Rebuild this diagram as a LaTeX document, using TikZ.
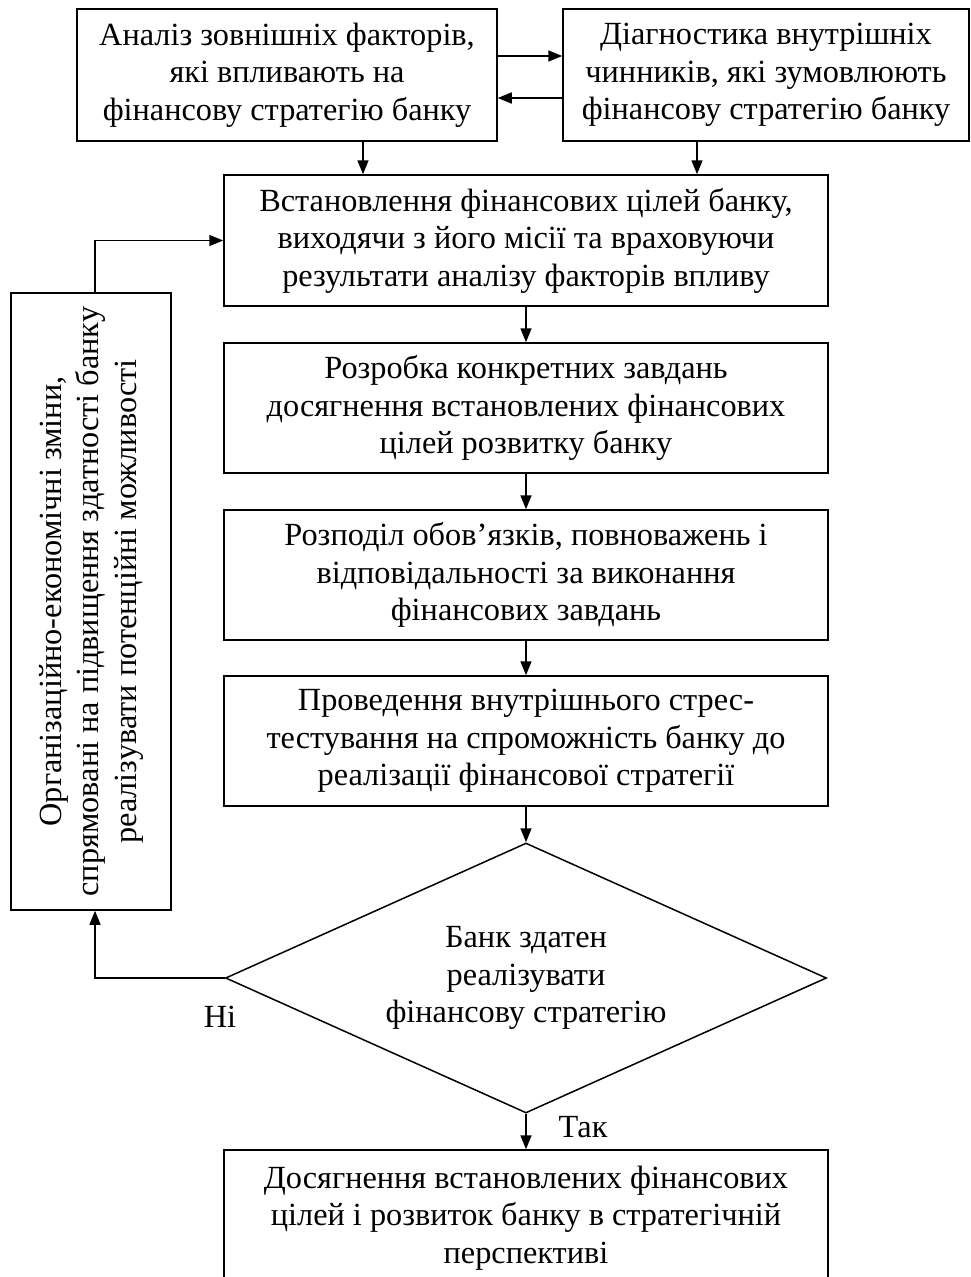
\documentclass[tikz,border=0pt]{standalone}
\usepackage{fontspec}
\setmainfont{Liberation Serif}
\usetikzlibrary{shapes.geometric,arrows.meta}
\begin{document}
\begin{tikzpicture}[x=1pt,y=-1pt,
  box/.style={draw, line width=1.5pt, align=center, inner sep=0pt,
    font=\fontsize{32.3}{37.5}\selectfont, minimum width=604pt, minimum height=130pt},
  lbl/.style={inner sep=0pt, font=\fontsize{32.3}{37.5}\selectfont},
  arr/.style={line width=1.5pt, -{Triangle[length=14pt,width=11pt]}}]
\useasboundingbox (0,0) rectangle (971,1277);
\clip (0,0) rectangle (971,1277);
\coordinate (yA) at (0,56);
\coordinate (yB) at (0,98);
\coordinate (xA) at (363,0);
\coordinate (xB) at (697,0);
\coordinate (xL) at (95,0);

\node[box, minimum width=420pt, minimum height=132pt] (b1) at (287,75)
  {Аналіз зовнішніх факторів,\\ які впливають на\\ фінансову стратегію банку};
\node[box, minimum width=406pt, minimum height=132pt] (b2) at (766,75)
  {Діагностика внутрішніх\\ чинників, які зумовлюють\\ фінансову стратегію банку};
\node[box, minimum height=131pt] (b3) at (526,240.5)
  {Встановлення фінансових цілей банку,\\ виходячи з його місії та враховуючи\\ результати аналізу факторів впливу};
\node[box] (b4) at (526,408)
  {Розробка конкретних завдань\\ досягнення встановлених фінансових\\ цілей розвитку банку};
\node[box] (b5) at (526,575)
  {Розподіл обов’язків, повноважень і\\ відповідальності за виконання\\ фінансових завдань};
\node[box] (b6) at (526,741)
  {Проведення внутрішнього стрес-\\ тестування на спроможність банку до\\ реалізації фінансової стратегії};
\node[box, diamond, shape aspect=2.2, minimum width=601pt, minimum height=270pt] (d) at (526,978)
  {Банк здатен\\ реалізувати\\ фінансову стратегію};
\node[box, rotate=90, minimum width=617pt, minimum height=160pt] (l) at (91,601.5)
  {Організаційно-економічні зміни,\\ спрямовані на підвищення здатності банку\\ реалізувати потенційні можливості};
\node[box, minimum height=136pt] (b7) at (526,1218)
  {Досягнення встановлених фінансових\\ цілей і розвиток банку в стратегічній\\ перспективі};
\node[lbl] (ni) at (220,1017) {Ні};
\node[lbl] (tak) at (583,1127) {Так};

\draw[arr] (b1.east |- yA) -- (b2.west |- yA);
\draw[arr] (b2.west |- yB) -- (b1.east |- yB);
\draw[arr] (b1.south -| xA) -- (b3.north -| xA);
\draw[arr] (b2.south -| xB) -- (b3.north -| xB);
\draw[arr] (b3.south) -- (b4.north);
\draw[arr] (b4.south) -- (b5.north);
\draw[arr] (b5.south) -- (b6.north);
\draw[arr] (b6.south) -- (d.north);
\draw[arr] (d.south) -- (b7.north);
\draw[arr] (d.west) -| (l.west -| xL);
\draw[arr] (l.east -| xL) |- (b3.west);
\end{tikzpicture}
\end{document}
